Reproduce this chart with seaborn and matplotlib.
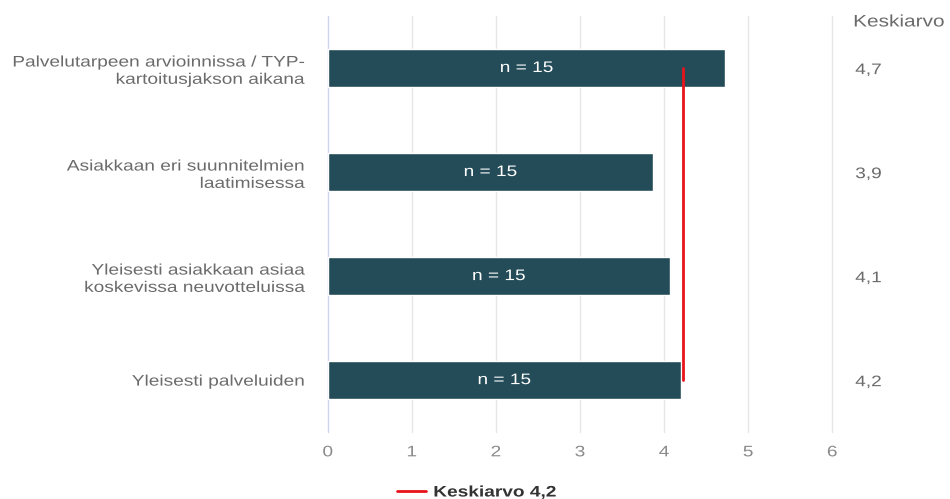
import matplotlib
matplotlib.use("Agg")
import matplotlib.pyplot as plt
import seaborn as sns
import pandas as pd
from matplotlib.lines import Line2D
from matplotlib.patheffects import AbstractPathEffect
from matplotlib.transforms import Affine2D

categories = [
    "Palvelutarpeen arvioinnissa / TYP-\nkartoitusjakson aikana",
    "Asiakkaan eri suunnitelmien\nlaatimisessa",
    "Yleisesti asiakkaan asiaa\nkoskevissa neuvotteluissa",
    "Yleisesti palveluiden",
]
means = [4.73, 3.87, 4.07, 4.2]
counts = [15, 15, 15, 15]
overall_mean = 4.22
x_ticks = [0, 1, 2, 3, 4, 5, 6]


class Widen(AbstractPathEffect):
    """Draw text glyphs horizontally widened about a fixed anchor."""

    def __init__(self, sx=1.25, anchor="left"):
        super().__init__()
        self.sx = sx
        self.anchor = anchor

    def draw_path(self, renderer, gc, tpath, affine, rgbFace=None):
        ext = tpath.get_extents()
        if self.anchor == "right":
            x0 = ext.x1
        elif self.anchor == "center":
            x0 = (ext.x0 + ext.x1) / 2
        else:
            x0 = 0
        pre = Affine2D().translate(-x0, 0).scale(self.sx, 1).translate(x0, 0)
        renderer.draw_path(gc, tpath, pre + affine, rgbFace)


SX = 1.25

sns.set_theme(style="white")
plt.rcParams["font.family"] = ["Liberation Sans", "DejaVu Sans"]

df = pd.DataFrame({"kategoria": categories, "keskiarvo": means, "n": counts})

fig = plt.figure(figsize=(9.5, 4.99), dpi=100)
ax = fig.add_axes([0.345, 0.134, 0.531, 0.834])

sns.barplot(data=df, x="keskiarvo", y="kategoria", orient="h",
            color="#234b58", saturation=1, width=0.36, ax=ax, zorder=3)

ax.set_xlim(0, 6)
ax.set_ylim(3.5, -0.5)
ax.set_xticks(x_ticks)
ax.set_xticklabels([str(t) for t in x_ticks], color="#8a8a8a", fontsize=11)
ax.tick_params(axis="x", length=0, pad=9.5)
ax.tick_params(axis="y", length=0, pad=17)
for lbl in ax.get_xticklabels():
    lbl.set_path_effects([Widen(SX, "center")])
for lbl in ax.get_yticklabels():
    lbl.set_color("#6b6b6b")
    lbl.set_fontsize(11)
    lbl.set_linespacing(1.3)
    lbl.set_horizontalalignment("right")
    lbl.set_multialignment("right")
    lbl.set_path_effects([Widen(SX, "right")])
ax.set_xlabel("")
ax.set_ylabel("")
for s in ax.spines.values():
    s.set_visible(False)

for t in x_ticks:
    ax.axvline(t, color="#cdd6ec" if t == 0 else "#e6e6e6", lw=1,
               zorder=1, clip_on=False)

# n-labels centred on each bar
for i, (m, n) in enumerate(zip(means, counts)):
    ax.text(m / 2, i, f"n = {n}", color="white", fontsize=11,
            ha="center", va="center", zorder=5,
            path_effects=[Widen(SX, "center")])

# overall mean line
ax.plot([overall_mean, overall_mean], [0, len(categories) - 1],
        color="#e8141b", lw=2, zorder=4)

# mean column at right
fig.text(0.898, 0.956, "Keskiarvo", color="#6b6b6b", fontsize=12,
         ha="left", va="center", path_effects=[Widen(SX, "left")])
for i, m in enumerate(means):
    ax.text(1.0456, i + 0.02, f"{m:.1f}".replace(".", ","),
            transform=ax.get_yaxis_transform(),
            color="#6b6b6b", fontsize=11, ha="left", va="center",
            path_effects=[Widen(SX, "left")])

handle = Line2D([0], [0], color="#e8141b", lw=2)
leg = fig.legend([handle], [f"Keskiarvo {overall_mean:.1f}".replace(".", ",")],
                 loc="center left", bbox_to_anchor=(0.403, 0.013), frameon=False,
                 handlelength=1.9, handletextpad=0.5,
                 prop={"weight": "bold", "size": 11})
for t in leg.get_texts():
    t.set_color("#333333")
    t.set_path_effects([Widen(SX, "left")])

fig.savefig("out.png", dpi=100)
